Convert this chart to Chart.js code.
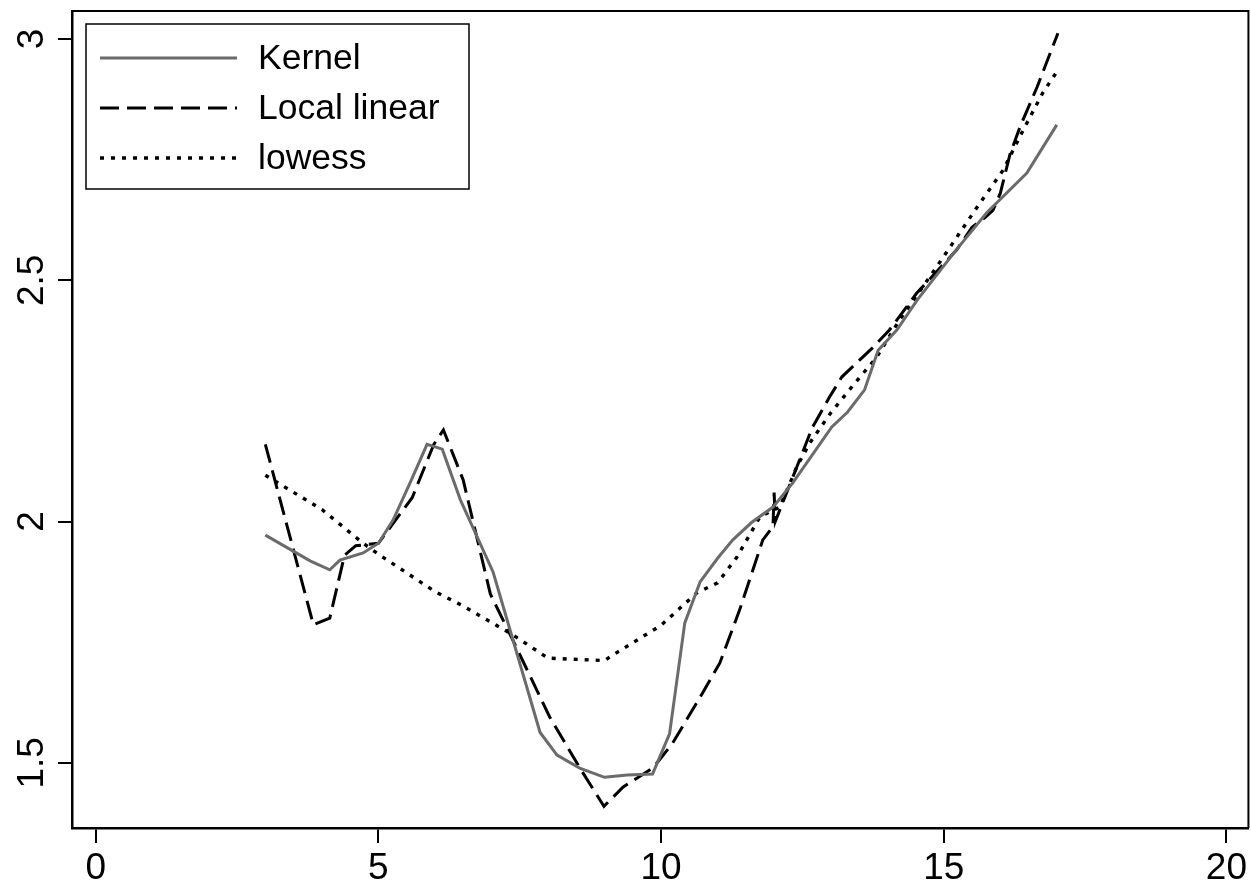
<!DOCTYPE html>
<html>
<head>
<meta charset="utf-8">
<script src="https://cdn.jsdelivr.net/npm/chart.js@4"></script>
<style>
  body { margin: 0; background: #fff; }
</style>
</head>
<body>
<canvas id="smooth" width="1251" height="884"></canvas>
<script>
// values
var kernelX = [3.0, 3.8, 4.14, 4.32, 4.73, 5.0, 5.26, 5.56, 5.86, 6.13, 6.45, 7.03, 7.86, 8.16, 8.56, 9.0, 9.4, 9.85, 10.15, 10.42, 10.69, 11.0, 11.27, 11.6, 11.98, 12.33, 13.02, 13.3, 13.6, 13.84, 14.17, 14.53, 15.2, 15.76, 16.47, 17.0];
var kernelY = [1.972, 1.918, 1.90, 1.92, 1.935, 1.955, 2.003, 2.08, 2.16, 2.15, 2.045, 1.895, 1.563, 1.516, 1.489, 1.47, 1.475, 1.477, 1.56, 1.79, 1.875, 1.924, 1.962, 1.998, 2.03, 2.08, 2.196, 2.227, 2.273, 2.355, 2.397, 2.459, 2.56, 2.64, 2.722, 2.822];

var llX = [3.0, 3.85, 4.14, 4.4, 4.6, 5.0, 5.6, 5.98, 6.15, 6.5, 6.98, 7.38, 8.03, 8.56, 8.99, 9.33, 9.86, 10.2, 10.69, 11.04, 11.39, 11.8, 11.98, 12.0, 12.02, 12.33, 12.68, 12.98, 13.2, 13.74, 14.04, 14.52, 15.23, 15.5, 15.73, 15.87, 16.0, 16.17, 16.35, 16.65, 17.02];
var llY = [2.16, 1.786, 1.80, 1.93, 1.95, 1.955, 2.05, 2.16, 2.19, 2.086, 1.85, 1.754, 1.595, 1.49, 1.41, 1.45, 1.49, 1.54, 1.636, 1.707, 1.817, 1.962, 1.99, 2.06, 2.0, 2.092, 2.196, 2.258, 2.30, 2.36, 2.397, 2.473, 2.563, 2.61, 2.63, 2.645, 2.68, 2.76, 2.818, 2.90, 3.012];

var lowX = [3.0, 4.0, 4.73, 5.03, 6.0, 6.5, 7.38, 8.0, 9.0, 9.1, 10.0, 10.63, 11.0, 11.34, 11.75, 12.1, 12.4, 12.63, 13.0, 13.43, 13.81, 14.22, 14.8, 15.16, 15.64, 16.05, 16.4, 16.75, 17.0];
var lowY = [2.096, 2.025, 1.955, 1.93, 1.855, 1.825, 1.765, 1.717, 1.712, 1.72, 1.785, 1.852, 1.873, 1.926, 2.01, 2.03, 2.113, 2.163, 2.225, 2.287, 2.34, 2.418, 2.515, 2.577, 2.66, 2.728, 2.81, 2.888, 2.932];

var seriesNames = ["Kernel", "Local linear", "lowess"];
var xTicks = [0, 5, 10, 15, 20];
var yTicks = [1.5, 2, 2.5, 3];
var yTickLabels = ["1.5", "2", "2.5", "3"];

var FONT = "'Liberation Sans', Arial, Helvetica, sans-serif";

function pts(xs, ys) {
    var out = [];
    for (var i = 0; i < xs.length; i++) out.push({x: xs[i], y: ys[i]});
    return out;
}

// box on top/right, rotated y labels and the framed legend
var extras = {
    id: "extras",
    afterDraw: function (chart) {
        var ctx = chart.ctx;
        var a = chart.chartArea;
        ctx.save();
        ctx.strokeStyle = "#000";
        ctx.lineWidth = 2;
        ctx.beginPath();
        ctx.moveTo(a.left, a.top);
        ctx.lineTo(a.right, a.top);
        ctx.lineTo(a.right, a.bottom);
        ctx.stroke();

        // y tick labels, turned to read upwards
        var ys = chart.scales.y;
        ctx.fillStyle = "#000";
        ctx.font = "37px " + FONT;
        ctx.textAlign = "center";
        ctx.textBaseline = "alphabetic";
        for (var i = 0; i < yTicks.length; i++) {
            var py = ys.getPixelForValue(yTicks[i]);
            ctx.save();
            ctx.translate(43, py);
            ctx.rotate(-Math.PI / 2);
            ctx.fillText(yTickLabels[i], 0, 0);
            ctx.restore();
        }

        // legend
        ctx.lineWidth = 1.5;
        ctx.strokeRect(86, 24, 383, 165);
        ctx.font = "35.5px " + FONT;
        ctx.textAlign = "left";
        ctx.textBaseline = "middle";
        var ds = chart.data.datasets;
        for (var k = 0; k < ds.length; k++) {
            var ly = 58 + k * 50;
            ctx.strokeStyle = ds[k].borderColor;
            ctx.lineWidth = ds[k].borderWidth;
            ctx.setLineDash(ds[k].borderDash || []);
            ctx.beginPath();
            ctx.moveTo(100, ly);
            ctx.lineTo(237, ly);
            ctx.stroke();
            ctx.setLineDash([]);
            ctx.fillText(ds[k].label, 258, ly + 1);
        }
        ctx.restore();
    }
};

var canvasElement = document.getElementById("smooth");
var config = {
    type: "line",
    data: {
        datasets: [
            {
                label: seriesNames[0],
                data: pts(kernelX, kernelY),
                borderColor: "#6b6b6b",
                borderWidth: 3,
                pointRadius: 0,
                tension: 0,
                fill: false
            },
            {
                label: seriesNames[1],
                data: pts(llX, llY),
                borderColor: "#000",
                borderWidth: 3,
                borderDash: [19, 8],
                pointRadius: 0,
                tension: 0,
                fill: false
            },
            {
                label: seriesNames[2],
                data: pts(lowX, lowY),
                borderColor: "#000",
                borderWidth: 3.4,
                borderDash: [4, 7],
                pointRadius: 0,
                tension: 0,
                fill: false
            }
        ]
    },
    options: {
        responsive: false,
        animation: false,
        layout: { padding: { top: 11, right: 2, left: 0, bottom: 0 } },
        plugins: {
            legend: { display: false },
            tooltip: { enabled: false }
        },
        scales: {
            x: {
                type: "linear",
                min: -0.42,
                max: 20.39,
                afterBuildTicks: function (s) {
                    s.ticks = xTicks.map(function (v) { return {value: v}; });
                },
                afterFit: function (s) { s.height = 56; },
                grid: {
                    drawOnChartArea: false,
                    drawTicks: true,
                    tickLength: 15,
                    color: "#000",
                    lineWidth: 2
                },
                border: { display: true, color: "#000", width: 2.5 },
                ticks: {
                    color: "#000",
                    font: { family: FONT, size: 37 },
                    padding: 4,
                    maxRotation: 0,
                    autoSkip: false
                }
            },
            y: {
                type: "linear",
                min: 1.365,
                max: 3.058,
                afterBuildTicks: function (s) {
                    s.ticks = yTicks.map(function (v) { return {value: v}; });
                },
                afterFit: function (s) { s.width = 72; },
                grid: {
                    drawOnChartArea: false,
                    drawTicks: true,
                    tickLength: 14,
                    color: "#000",
                    lineWidth: 2
                },
                border: { display: true, color: "#000", width: 2.5 },
                ticks: {
                    callback: function () { return ""; },
                    autoSkip: false
                }
            }
        }
    },
    plugins: [extras]
};
var smoothChart = new Chart(canvasElement, config);
</script>
</body>
</html>
